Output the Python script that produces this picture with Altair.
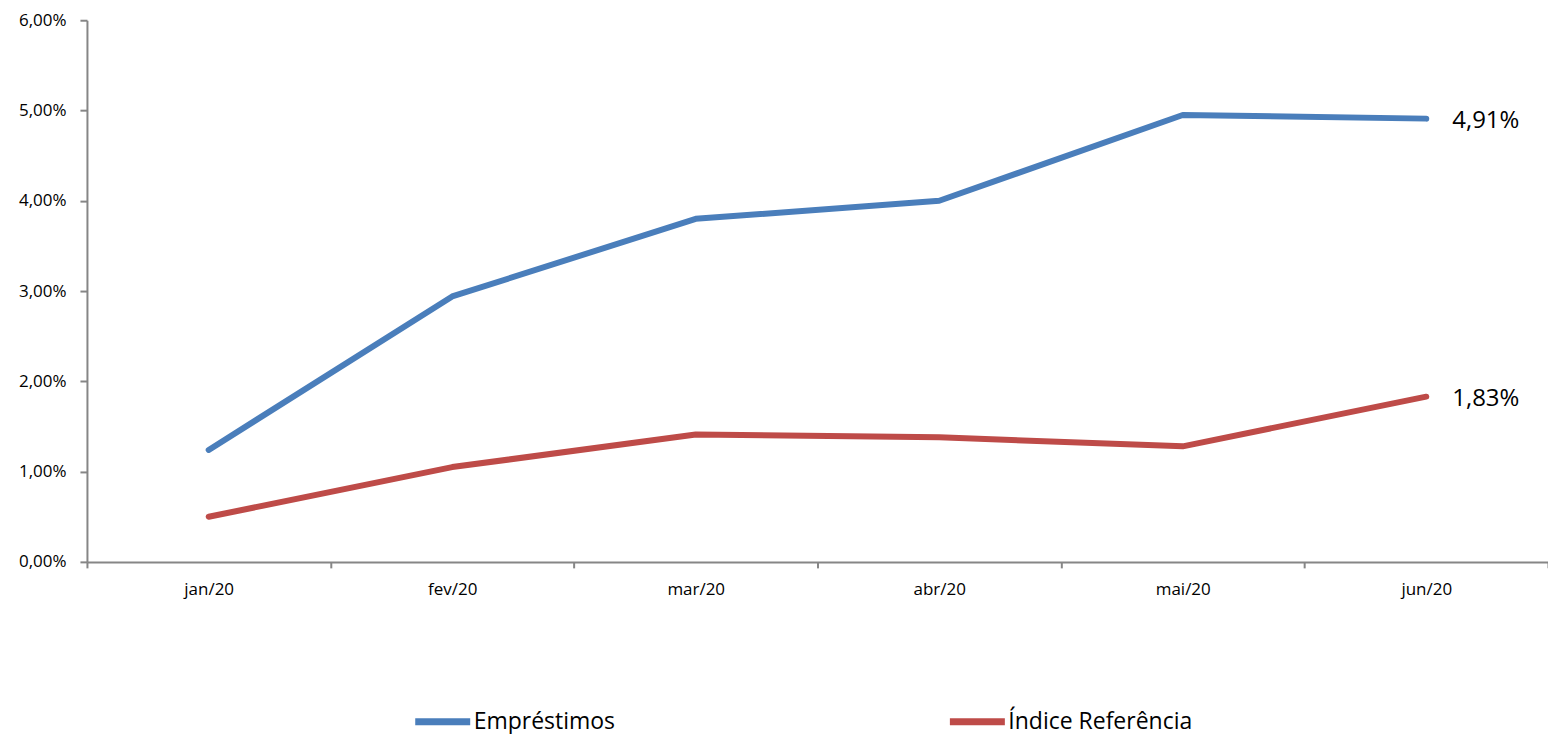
import altair as alt
import pandas as pd

months = ["jan/20", "fev/20", "mar/20", "abr/20", "mai/20", "jun/20"]
emprestimos = [0.0124, 0.0294, 0.0380, 0.0400, 0.0495, 0.0491]
indice = [0.0050, 0.0105, 0.0141, 0.0138, 0.0128, 0.0183]
series_names = ["Empréstimos", "Índice Referência"]
colors = ["#4A7EBB", "#BE4B48"]

rows = []
for i, m in enumerate(months):
    rows.append({"mes": m, "serie": series_names[0], "valor": emprestimos[i], "ordem": i})
    rows.append({"mes": m, "serie": series_names[1], "valor": indice[i], "ordem": i})
df = pd.DataFrame(rows)

last = df[df["mes"] == months[-1]].copy()
last["rotulo"] = last["valor"].map(lambda v: f"{v*100:.2f}%".replace(".", ","))

FONT = "Open Sans"

x = alt.X("mes:N", sort=months, title=None,
          scale=alt.Scale(type="band", paddingInner=0, paddingOuter=0),
          axis=alt.Axis(labelAngle=0, tickBand="extent", labelFontSize=17, labelFont=FONT,
                        labelColor="#000000", domainColor="#868686", domainWidth=2,
                        tickColor="#868686", tickWidth=2, tickSize=6, labelPadding=14,
                        grid=False))
y = alt.Y("valor:Q", title=None,
          scale=alt.Scale(domain=[0, 0.06], nice=False),
          axis=alt.Axis(values=[0, 0.01, 0.02, 0.03, 0.04, 0.05, 0.06],
                        labelExpr="replace(format(datum.value, '.2%'), '.', ',')",
                        labelFontSize=17, labelFont=FONT, labelColor="#000000",
                        domainColor="#868686", domainWidth=2, tickColor="#868686",
                        tickWidth=2, tickSize=7, labelPadding=14, grid=False))

color = alt.Color("serie:N", sort=series_names,
                  scale=alt.Scale(domain=series_names, range=colors),
                  legend=alt.Legend(title=None, orient="none", direction="horizontal",
                                    legendX=325, legendY=671,
                                    symbolType="stroke", symbolSize=3025,
                                    symbolStrokeWidth=7, labelFontSize=23,
                                    labelFont=FONT, labelColor="#000000",
                                    labelOffset=0, columnPadding=320,
                                    labelLimit=400))

lines = alt.Chart(df).mark_line(strokeWidth=6, strokeCap="round", strokeJoin="round").encode(
    x=x, y=y, color=color, detail="serie:N", order="ordem:Q"
)

labels = alt.Chart(last).mark_text(align="left", baseline="middle", dx=26, dy=2, fontSize=24,
                                   font=FONT, color="#000000").encode(
    x=alt.X("mes:N", sort=months, scale=alt.Scale(type="band", paddingInner=0, paddingOuter=0)),
    y=alt.Y("valor:Q", scale=alt.Scale(domain=[0, 0.06], nice=False)),
    text="rotulo:N"
)

chart = alt.layer(lines, labels).properties(
    width=1462, height=542,
    autosize=alt.AutoSizeParams(type="none"),
    padding={"left": 79, "top": 12, "right": 0, "bottom": 172},
    background="#FFFFFF"
).configure_view(stroke=None)

chart.save("out.html", embed_options={"renderer": "svg", "actions": False})
